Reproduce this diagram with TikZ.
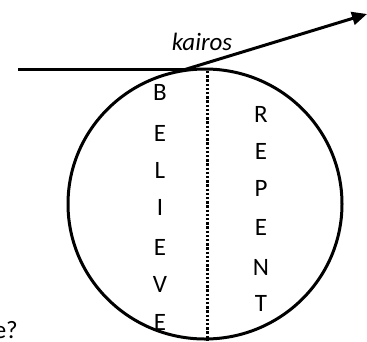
\documentclass[tikz,border=0pt]{standalone}
\usepackage{fontspec}
\setmainfont{Carlito}
\usetikzlibrary{arrows.meta,shapes.geometric}
\begin{document}
\begin{tikzpicture}[x=1pt,y=-1pt,
  thickline/.style={line width=3pt},
  letter/.style={font=\fontsize{25}{30}\selectfont, inner sep=0pt, anchor=center},
  dottedline/.style={line width=3pt, dash pattern=on 2.4pt off 1.8pt}]
\clip (0,0) rectangle (367,341);
\useasboundingbox (0,0) rectangle (367,341);
\node (ball) [ellipse, draw, thickline, minimum width=274pt, minimum height=270pt, inner sep=0pt] at (205,204) {};
\coordinate (start) at (18,69.5);
\coordinate (touch) at (185,69.5);
\coordinate (tip) at (367,14);
\draw[thickline] (start) -- (touch);
\draw[thickline, -{Triangle[length=15pt,width=13pt]}] (touch) -- (tip);
\node[font=\fontsize{25}{30}\selectfont\itshape, inner sep=0pt] (kairos) at (202,42) {kairos};
\coordinate (dtop) at (207,71);
\coordinate (dbot) at (207,341);
\draw[dottedline] (dtop) -- (dbot);
\node[letter] (b1) at (160,92) {B};
\node[letter] (b2) at (160,133) {E};
\node[letter] (b3) at (160,170) {L};
\node[letter] (b4) at (160,207) {I};
\node[letter] (b5) at (160,247) {E};
\node[letter] (b6) at (160,284) {V};
\node[letter] (b7) at (160,322) {E};
\node[letter] (r1) at (261,114) {R};
\node[letter] (r2) at (261,151) {E};
\node[letter] (r3) at (261,188) {P};
\node[letter] (r4) at (261,227) {E};
\node[letter] (r5) at (261,267) {N};
\node[letter] (r6) at (261,303) {T};
\node[font=\fontsize{25}{30}\selectfont, inner sep=0pt, anchor=base east] (q) at (18,338) {e?};
\end{tikzpicture}
\end{document}
